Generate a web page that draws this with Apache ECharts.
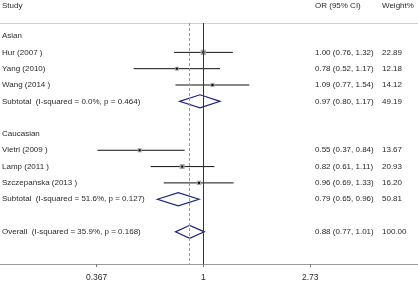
<!DOCTYPE html>
<html>
<head>
<meta charset="utf-8">
<script src="https://cdn.jsdelivr.net/npm/echarts@6/dist/echarts.min.js"></script>
<style>
    html, body { margin: 0; padding: 0; background: #fff; }
    #main { width: 418px; height: 284px; }
</style>
</head>
<body>
<div id="main"></div>
<script>
    // rows of the forest plot, top to bottom
    const studyLabels = [
        'Asian',
        'Hur (2007 )',
        'Yang (2010)',
        'Wang (2014 )',
        'Subtotal  (I-squared = 0.0%, p = 0.464)',
        '',
        'Caucasian',
        'Vietri (2009 )',
        'Lamp (2011 )',
        'Szczepańska (2013 )',
        'Subtotal  (I-squared = 51.6%, p = 0.127)',
        '',
        'Overall  (I-squared = 35.9%, p = 0.168)'
    ];
    const rowKind = ['group', 'study', 'study', 'study', 'subtotal', 'blank',
        'group', 'study', 'study', 'study', 'subtotal', 'blank', 'overall'];
    const orValues = [null, 1.00, 0.78, 1.09, 0.97, null, null, 0.55, 0.82, 0.96, 0.79, null, 0.88];
    const ciLower  = [null, 0.76, 0.52, 0.77, 0.80, null, null, 0.37, 0.61, 0.69, 0.65, null, 0.77];
    const ciUpper  = [null, 1.32, 1.17, 1.54, 1.17, null, null, 0.84, 1.11, 1.33, 0.96, null, 1.01];
    const weights  = [null, 22.89, 12.18, 14.12, 49.19, null, null, 13.67, 20.93, 16.20, 50.81, null, 100.00];
    const tickValues = [0.367, 1, 2.73];
    const tickLabels = ['0.367', '1', '2.73'];
    const overallOR = 0.88;

    const FONT = '8px "Liberation Sans", Arial, sans-serif';
    const TXT = '#2a2a2a';

    let myChart = echarts.init(document.getElementById('main'));

    function renderItem(params, api) {
        const i = api.value(1);
        const kind = rowKind[i];
        const y = api.coord([0, i])[1];
        const children = [];
        if (studyLabels[i]) {
            children.push({type: 'text', style: {x: 2, y: y, text: studyLabels[i], font: FONT, fill: TXT, verticalAlign: 'middle'}});
        }
        if (orValues[i] != null) {
            const cx = api.coord([Math.log(orValues[i]), i])[0];
            const lx = api.coord([Math.log(ciLower[i]), i])[0];
            const hx = api.coord([Math.log(ciUpper[i]), i])[0];
            if (kind === 'study') {
                const s = Math.sqrt(weights[i]) * 1.1;
                children.push({type: 'line', shape: {x1: lx, y1: y, x2: hx, y2: y}, style: {stroke: '#111', lineWidth: 1}});
                children.push({type: 'rect', shape: {x: cx - s / 2, y: y - s / 2, width: s, height: s}, style: {fill: '#a8a8a8'}});
                children.push({type: 'rect', shape: {x: cx - 1, y: y - 1, width: 2, height: 2}, style: {fill: '#000'}});
            } else {
                const h = api.size([0, 0.4])[1];
                children.push({
                    type: 'polygon',
                    shape: {points: [[lx, y], [cx, y - h], [hx, y], [cx, y + h]]},
                    style: {fill: 'none', stroke: '#1f2475', lineWidth: 1.2}
                });
            }
            const orText = orValues[i].toFixed(2) + ' (' + ciLower[i].toFixed(2) + ', ' + ciUpper[i].toFixed(2) + ')';
            children.push({type: 'text', style: {x: 315, y: y, text: orText, font: FONT, fill: TXT, verticalAlign: 'middle'}});
            children.push({type: 'text', style: {x: 382, y: y, text: weights[i].toFixed(2), font: FONT, fill: TXT, verticalAlign: 'middle'}});
        }
        return {type: 'group', children: children};
    }

    myChart.setOption({
        animation: false,
        grid: {left: 0, right: 0, top: 23, bottom: 20},
        graphic: [
            {type: 'text', left: 2, top: 2, style: {text: 'Study', font: FONT, fill: TXT}},
            {type: 'text', left: 315, top: 2, style: {text: 'OR (95% CI)', font: FONT, fill: TXT}},
            {type: 'text', left: 382, top: 2, style: {text: 'Weight%', font: FONT, fill: TXT}}
        ],
        xAxis: [{
            type: 'value',
            min: -1.909,
            max: 2.016,
            splitLine: {show: false},
            axisLine: {show: true, onZero: false, lineStyle: {color: '#9a9a9a', width: 1.2}},
            axisTick: {show: true, customValues: tickValues.map(Math.log), length: 3, lineStyle: {color: '#777'}},
            axisLabel: {
                customValues: tickValues.map(Math.log),
                formatter: function (v) {
                    const k = tickValues.findIndex(t => Math.abs(Math.log(t) - v) < 1e-6);
                    return k >= 0 ? tickLabels[k] : '';
                },
                color: TXT, fontSize: 8.5, fontFamily: 'Liberation Sans', margin: 9
            }
        }, {
            type: 'value',
            position: 'top',
            min: -1.909,
            max: 2.016,
            splitLine: {show: false},
            axisLine: {show: true, onZero: false, lineStyle: {color: '#d0d0d0', width: 1}},
            axisTick: {show: false},
            axisLabel: {show: false}
        }],
        yAxis: {
            type: 'value',
            inverse: true,
            min: -0.8,
            max: 13.97,
            show: false
        },
        series: [{
            type: 'custom',
            renderItem: renderItem,
            clip: false,
            silent: true,
            data: studyLabels.map((_, i) => [orValues[i] != null ? Math.log(orValues[i]) : 0, i])
        }, {
            type: 'line',
            data: [],
            silent: true,
            markLine: {
                symbol: 'none',
                label: {show: false},
                data: [
                    {xAxis: 0, lineStyle: {color: '#333', type: 'solid', width: 1}},
                    {xAxis: Math.log(overallOR), lineStyle: {color: '#9a9a9a', type: [3, 2], width: 1}}
                ]
            }
        }]
    });
</script>
</body>
</html>
